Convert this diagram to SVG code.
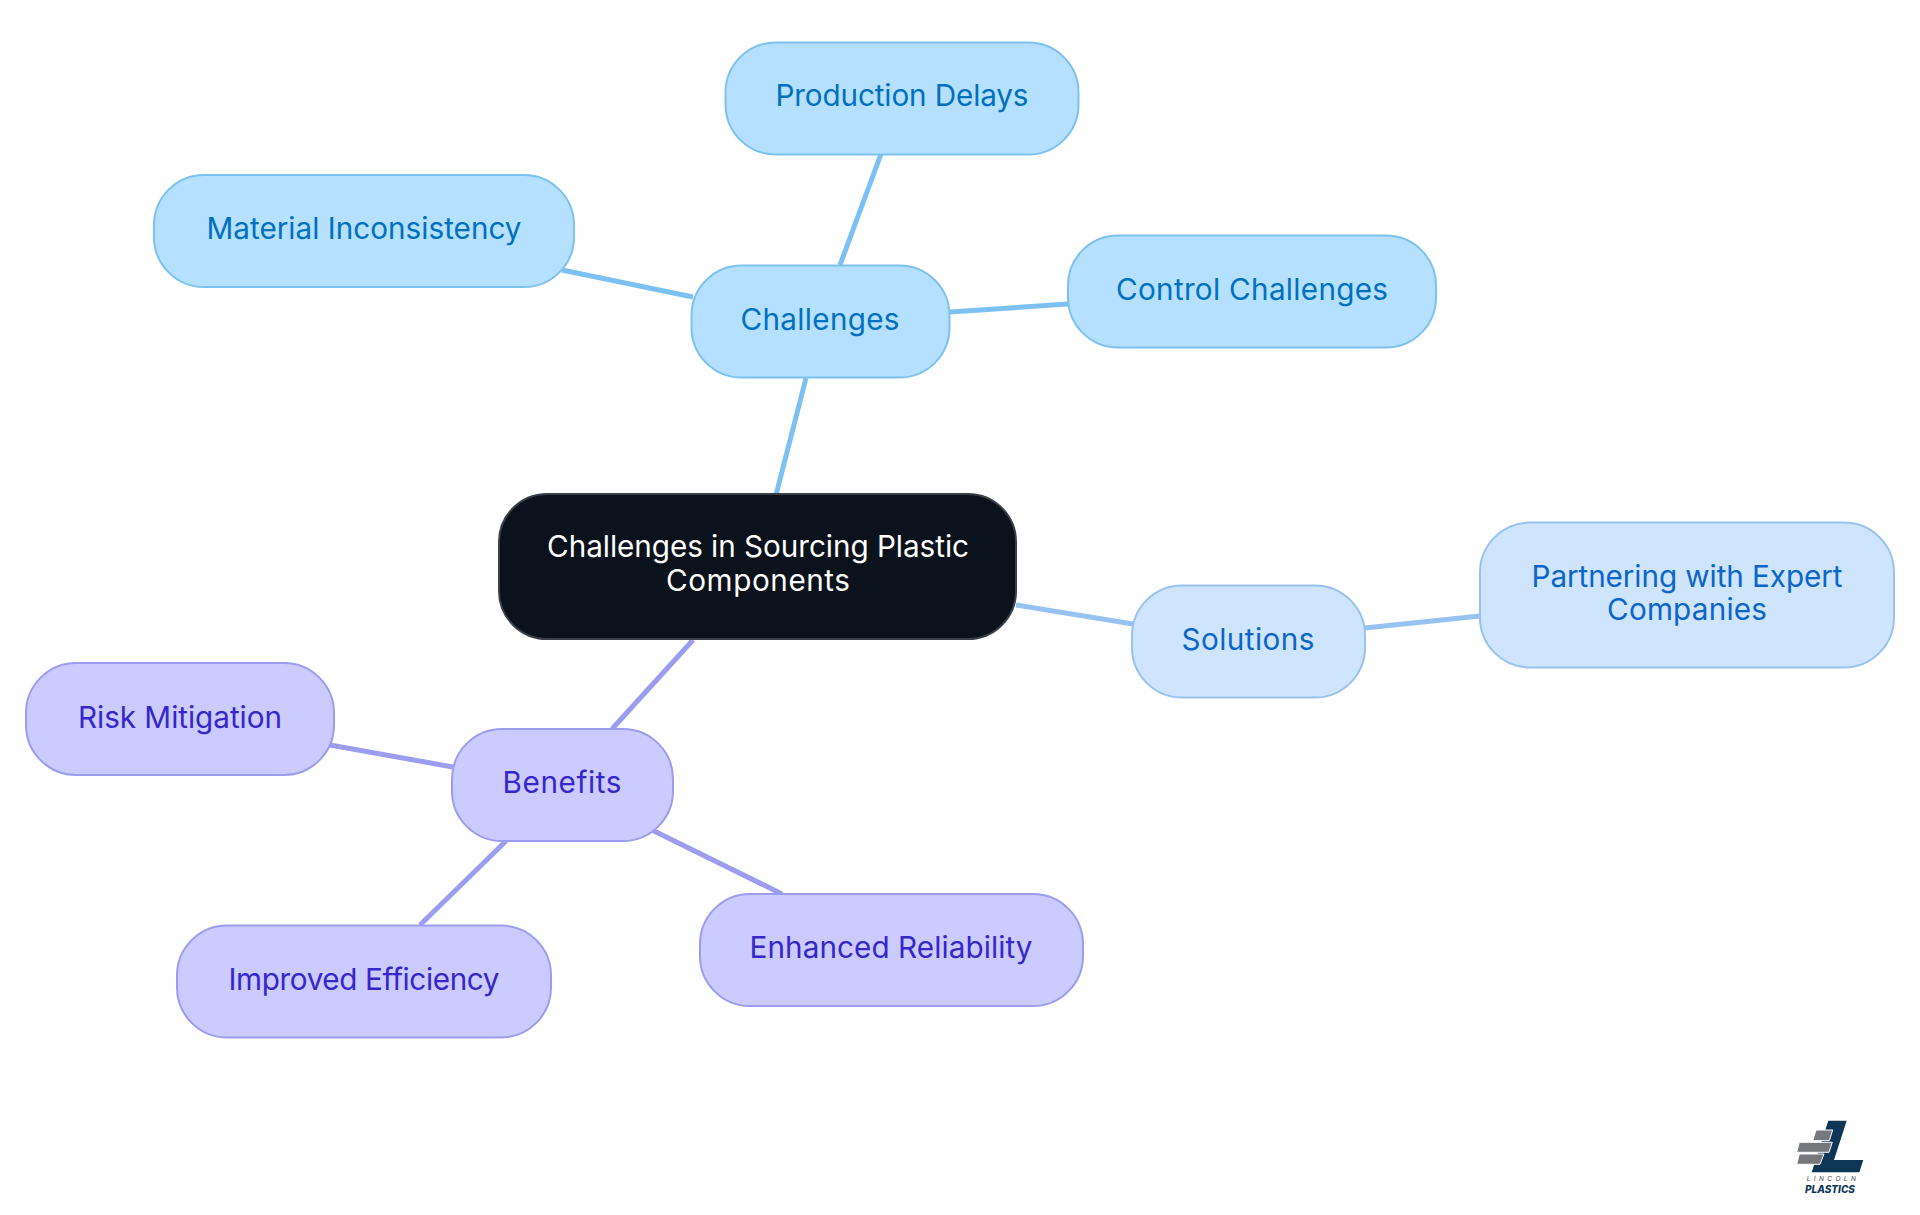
<svg xmlns="http://www.w3.org/2000/svg" width="1920" height="1215" viewBox="0 0 1920 1215">
<style>
text{font-family:"Inter","Noto Sans","Liberation Sans",sans-serif;font-size:29.7px;text-anchor:middle;font-weight:380}
.n rect{stroke-width:2}
.a rect{fill:#b5e0ff;stroke:#7cc1f2}.a text{fill:#0070c0}
.b rect{fill:#cfe4fd;stroke:#97c3f2}.b text{fill:#0a66c9}
.c rect{fill:#cbcbff;stroke:#9c9cf0}.c text{fill:#3527cc}
.r rect{fill:#0b121b;stroke:#3a4048}.r text{fill:#fff}
#connectors line{stroke-width:5;fill:none}
.ca{stroke:#7cc1f2}.cb{stroke:#97c3f2}.cc{stroke:#9c9cf0}
.g{fill:#77787b;stroke:#fff;stroke-width:1}.l{fill:#0f3557}
</style>
<g id="connectors">
<line class="ca" x1="776" y1="495" x2="806" y2="378"/>
<line class="ca" x1="840" y1="265" x2="881" y2="154"/>
<line class="ca" x1="693" y1="297" x2="562" y2="270"/>
<line class="ca" x1="950" y1="312" x2="1068" y2="304"/>
<line class="cb" x1="1016" y1="605" x2="1133" y2="624"/>
<line class="cb" x1="1365" y1="628" x2="1480" y2="616"/>
<line class="cc" x1="693" y1="640" x2="612" y2="729"/>
<line class="cc" x1="453" y1="767" x2="330" y2="745"/>
<line class="cc" x1="506" y1="841" x2="420" y2="925"/>
<line class="cc" x1="652" y1="830" x2="782" y2="894"/>
</g>
<g id="root" class="n r"><rect x="499" y="494" width="517" height="145" rx="48"/><text x="758" y="557" textLength="422">Challenges in Sourcing Plastic</text><text x="758" y="591" textLength="184">Components</text></g>
<g id="challenges" class="n a"><rect x="691.5" y="265.5" width="258" height="112" rx="50"/><text x="820" y="330" textLength="159">Challenges</text></g>
<g id="production-delays" class="n a"><rect x="725.5" y="42.5" width="353" height="112" rx="50"/><text x="902" y="106" textLength="253">Production Delays</text></g>
<g id="material-inconsistency" class="n a"><rect x="154" y="175" width="420" height="112" rx="50"/><text x="364" y="239" textLength="315">Material Inconsistency</text></g>
<g id="control-challenges" class="n a"><rect x="1068" y="235.5" width="368" height="112" rx="50"/><text x="1252" y="300" textLength="272">Control Challenges</text></g>
<g id="solutions" class="n b"><rect x="1132" y="585.5" width="233" height="112" rx="50"/><text x="1248" y="650" textLength="133">Solutions</text></g>
<g id="partnering" class="n b"><rect x="1480" y="522.5" width="414" height="145" rx="50"/><text x="1687" y="587" textLength="311">Partnering with Expert</text><text x="1687" y="620" textLength="160">Companies</text></g>
<g id="benefits" class="n c"><rect x="452" y="729" width="221" height="112" rx="50"/><text x="562" y="793" textLength="119">Benefits</text></g>
<g id="risk-mitigation" class="n c"><rect x="26" y="663" width="308" height="112" rx="50"/><text x="180" y="728" textLength="204">Risk Mitigation</text></g>
<g id="improved-efficiency" class="n c"><rect x="177" y="925.5" width="374" height="112" rx="50"/><text x="364" y="990" textLength="271">Improved Efficiency</text></g>
<g id="enhanced-reliability" class="n c"><rect x="700" y="894" width="383" height="112" rx="50"/><text x="891" y="958" textLength="283">Enhanced Reliability</text></g>
<g id="logo">
<polygon class="l" points="1828.3,1120.7 1846.7,1120.7 1834,1160 1863.3,1160 1859.3,1172.3 1811.7,1172.3"/>
<polygon class="g" points="1816,1130 1832.7,1130 1829.3,1140.7 1812.7,1140.7"/>
<polygon class="g" points="1799.3,1142.3 1832.3,1142.3 1829,1152.3 1796.7,1152.3"/>
<polygon class="g" points="1799.3,1154 1824,1154 1820,1164.3 1796.7,1164.3"/>
<text x="1833" y="1181" style="font-size:6.5px;letter-spacing:3.4px;fill:#3f4a55;font-style:italic">LINCOLN</text>
<text x="1830" y="1193" style="font-size:10px;font-weight:800;fill:#0f3557;font-style:italic">PLASTICS</text>
</g>
</svg>
